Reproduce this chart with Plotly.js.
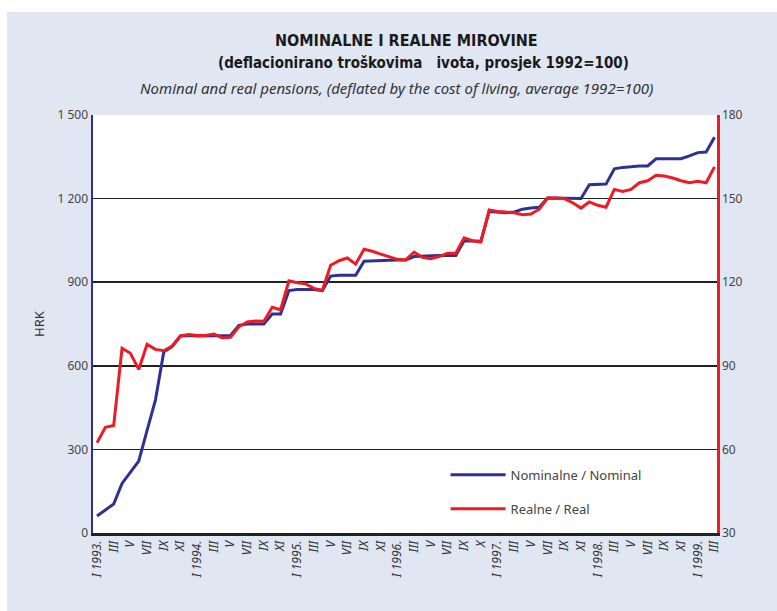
<!DOCTYPE html>
<html>
<head>
<meta charset="utf-8">
<script src="https://cdn.plot.ly/plotly-3.0.1.min.js"></script>
<style>
  html, body { margin: 0; padding: 0; background: #ffffff; }
  #chart { position: absolute; left: 7px; top: 12px; width: 770px; height: 599px; }
</style>
</head>
<body>
<div id="chart"></div>
<script>
// Monthly categories, January 1993 to March 1999
const years = [1993, 1994, 1995, 1996, 1997, 1998, 1999];
const romanMonths = ["I","II","III","IV","V","VI","VII","VIII","IX","X","XI","XII"];
const categories = [];
years.forEach(function (y) {
  romanMonths.forEach(function (m, i) {
    if (y === 1999 && i > 2) return;
    categories.push(m + " " + y);
  });
});

// Nominal pensions, HRK (left axis)
const nominal = [61,82,104,178,218,258,368,477,650,669,707,709,
                 707,707,709,709,709,745,750,750,750,786,786,870,
                 874,874,874,870,922,925,925,925,975,977,978,979,
                 980,980,992,994,994,996,996,996,1049,1047,1047,1154,
                 1152,1149,1152,1162,1166,1169,1202,1202,1200,1200,1200,1250,
                 1250,1252,1307,1312,1314,1317,1317,1343,1343,1343,1343,1353,
                 1365,1367,1420];

// Real pensions, index 1992=100 (right axis)
const real = [62.4,67.9,68.6,96.3,94.5,88.7,97.7,95.9,95.4,97.1,100.7,101.2,
              100.9,100.9,101.4,100.1,100.2,104.0,105.7,106.1,106.0,111.0,110.1,120.5,
              119.8,119.4,117.8,117.0,126.1,127.7,128.7,126.5,131.8,131.1,130.1,129.2,
              128.2,128.0,130.8,128.9,128.4,129.2,130.4,130.4,135.9,134.9,134.4,145.9,
              145.4,145.2,144.9,144.2,144.5,146.2,150.2,150.2,150.0,148.5,146.6,148.8,
              147.6,146.9,153.3,152.6,153.3,155.7,156.4,158.4,158.1,157.4,156.4,155.7,
              156.2,155.7,161.4];

// X tick labels (every second month)
const tickLabels = ["I 1993.","III","V","VII","IX","XI",
                    "I 1994.","III","V","VII","IX","XI",
                    "I 1995.","III","V","VII","IX","XI",
                    "I 1996.","III","V","VII","IX","X",
                    "I 1997.","III","V","VII","IX","XI",
                    "I 1998.","III","V","VII","IX","XI",
                    "I 1999.","III"];
const tickCats = categories.filter(function (c, i) { return i % 2 === 0; });

const leftTicks = [0, 300, 600, 900, 1200, 1500];
const leftTickText = ["0", "300", "600", "900", "1 200", "1 500"];
const rightTicks = [30, 60, 90, 120, 150, 180];

const seriesNames = ["Nominalne / Nominal", "Realne / Real"];

const BLUE = "#2e3192";
const RED = "#ed1c24";
const FONT = "'Liberation Sans Narrow', 'DejaVu Sans Condensed', 'Noto Sans', sans-serif";
const TFONT = "'Noto Sans', 'Open Sans', sans-serif";

const traces = [
  {
    x: categories, y: nominal, type: "scatter", mode: "lines",
    name: seriesNames[0], legendgroup: "a",
    line: { color: BLUE, width: 3 }, yaxis: "y", hoverinfo: "skip"
  },
  {
    x: categories, y: real, type: "scatter", mode: "lines",
    name: seriesNames[1], legendgroup: "b",
    line: { color: RED, width: 3 }, yaxis: "y2", hoverinfo: "skip"
  }
];

const layout = {
  width: 770, height: 599,
  margin: { l: 86, r: 60, t: 103, b: 78, pad: 0 },
  paper_bgcolor: "#e0e7f3",
  plot_bgcolor: "#ffffff",
  showlegend: true,
  legend: {
    x: 0.565, y: 0.175, xanchor: "left", yanchor: "top",
    bgcolor: "rgba(0,0,0,0)", traceorder: "grouped", tracegroupgap: 14,
    itemwidth: 55,
    font: { family: TFONT, size: 13, color: "#444" }
  },
  xaxis: {
    type: "category",
    range: [-0.48, 74.3],
    tickmode: "array", tickvals: tickCats, ticktext: tickLabels,
    tickangle: -90,
    tickfont: { family: TFONT, size: 12, color: "#333", style: "italic" },
    ticks: "", showgrid: false, zeroline: false,
    showline: true, linecolor: "#222", linewidth: 3,
    fixedrange: true
  },
  yaxis: {
    range: [0, 1500],
    tickmode: "array", tickvals: leftTicks, ticktext: leftTickText,
    tickfont: { family: TFONT, size: 12, color: "#444" },
    ticks: "", showgrid: true, gridcolor: "#222", gridwidth: 1.5,
    zeroline: false,
    showline: true, linecolor: BLUE, linewidth: 2.5,
    title: { text: "HRK", font: { family: TFONT, size: 13, color: "#333" }, standoff: 10 },
    fixedrange: true
  },
  yaxis2: {
    overlaying: "y", side: "right",
    range: [30, 180],
    tickmode: "array", tickvals: rightTicks,
    tickfont: { family: TFONT, size: 12, color: "#444" },
    ticks: "", showgrid: false, zeroline: false,
    showline: true, linecolor: RED, linewidth: 2.5,
    fixedrange: true
  },
  annotations: [
    {
      text: "<b>NOMINALNE I REALNE MIROVINE</b>",
      xref: "paper", yref: "paper", x: 0.502, y: 1.179,
      xanchor: "center", yanchor: "middle", showarrow: false,
      font: { family: FONT, size: 16, color: "#1a1a1a" }
    },
    {
      text: "<b>(deflacionirano troškovima   ivota, prosjek 1992=100)</b>",
      xref: "paper", yref: "paper", x: 0.529, y: 1.124,
      xanchor: "center", yanchor: "middle", showarrow: false,
      font: { family: FONT, size: 15, color: "#1a1a1a" }
    },
    {
      text: "<i>Nominal and real pensions, (deflated by the cost of living, average 1992=100)</i>",
      xref: "paper", yref: "paper", x: 0.487, y: 1.065,
      xanchor: "center", yanchor: "middle", showarrow: false,
      font: { family: TFONT, size: 15, color: "#333" }
    }
  ]
};

Plotly.newPlot("chart", traces, layout, { staticPlot: true, displayModeBar: false });
</script>
</body>
</html>
